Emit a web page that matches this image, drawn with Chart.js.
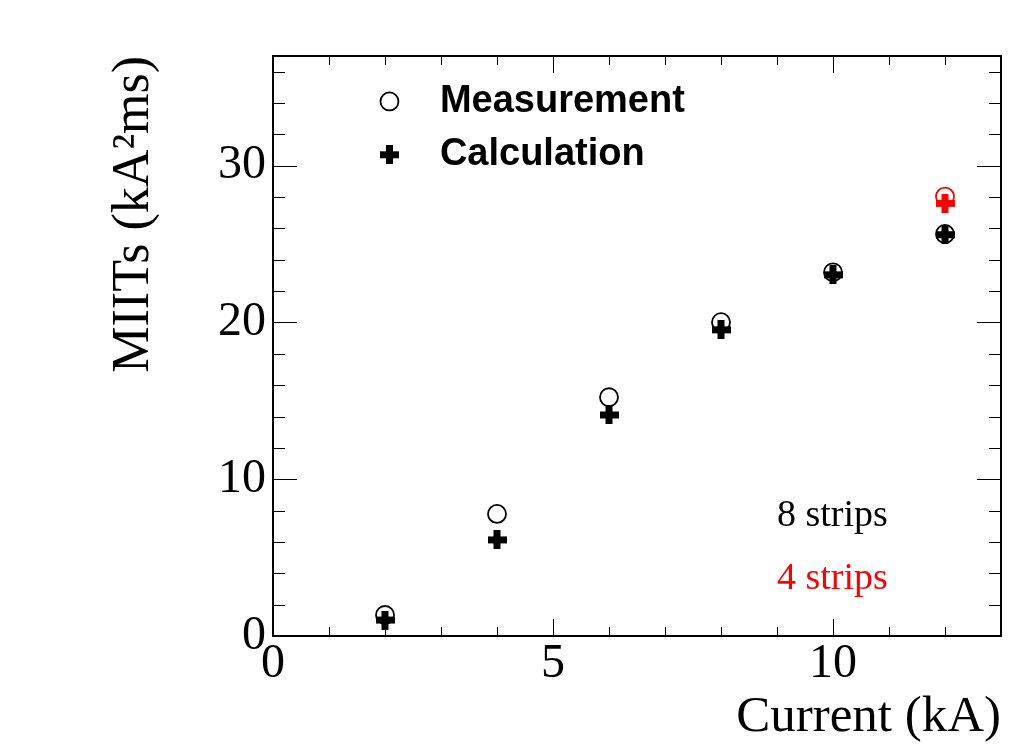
<!DOCTYPE html>
<html lang="en">
<head>
  <meta charset="UTF-8">
  <title>MIITs vs Current</title>
  <script src="https://cdn.jsdelivr.net/npm/chart.js"></script>
  <style>
    html, body { margin: 0; padding: 0; background: #fff; }
  </style>
</head>
<body>
  <canvas id="miitsChart" width="1025" height="746"></canvas>

  <script>
    // values
    const currents8 = [2, 4, 6, 8, 10, 12];
    const measured8 = [1.34, 7.79, 15.23, 20.02, 23.2, 25.65];
    const calculated8 = [1.02, 6.13, 14.1, 19.53, 23.04, 25.6];
    const currents4 = [12];
    const measured4 = [28.03];
    const calculated4 = [27.6];

    const xTicks = [0, 5, 10];
    const yTicks = [0, 10, 20, 30];

    const serif = 'Liberation Serif, Times New Roman, serif';
    const sans = 'Liberation Sans, Arial, sans-serif';

    // thick "+" marker like ROOT's style 34
    function makeCross(color) {
      const c = document.createElement('canvas');
      c.width = 19; c.height = 19;
      const g = c.getContext('2d');
      g.fillStyle = color;
      g.fillRect(0, 6, 19, 7);
      g.fillRect(6, 0, 7, 19);
      return c;
    }
    const blackCross = makeCross('#000');
    const redCross = makeCross('#ff0000');

    const toPoints = (xs, ys) => xs.map((x, i) => ({ x: x, y: ys[i] }));

    // frame, inward ticks on all sides, legend and text labels
    const rootFrame = {
      id: 'rootFrame',
      afterDraw(chart) {
        const ctx = chart.ctx;
        const a = chart.chartArea;
        const xs = chart.scales.x, ys = chart.scales.y;
        ctx.save();
        ctx.strokeStyle = '#000';

        ctx.lineWidth = 1;
        ctx.beginPath();
        for (let v = 0; v <= 13; v++) {
          const px = Math.round(xs.getPixelForValue(v)) + 0.5;
          const len = v % 5 === 0 ? 17 : 9;
          ctx.moveTo(px, a.bottom); ctx.lineTo(px, a.bottom - len);
          ctx.moveTo(px, a.top); ctx.lineTo(px, a.top + len);
        }
        for (let v = 0; v <= 36; v += 2) {
          const py = Math.round(ys.getPixelForValue(v)) + 0.5;
          const len = v % 10 === 0 ? 24 : 12;
          ctx.moveTo(a.left, py); ctx.lineTo(a.left + len, py);
          ctx.moveTo(a.right, py); ctx.lineTo(a.right - len, py);
        }
        ctx.stroke();

        ctx.lineWidth = 2;
        ctx.strokeRect(a.left, a.top, a.right - a.left, a.bottom - a.top);

        // legend
        const lx = xs.getPixelForValue(2.08);
        const tx = xs.getPixelForValue(2.98);
        const y1 = ys.getPixelForValue(34.1);
        const y2 = ys.getPixelForValue(30.7);
        ctx.lineWidth = 1.8;
        ctx.beginPath();
        ctx.arc(lx, y1, 9, 0, Math.PI * 2);
        ctx.stroke();
        ctx.drawImage(blackCross, lx - 9.5, y2 - 9.5);
        ctx.fillStyle = '#000';
        ctx.font = 'bold 38px ' + sans;
        ctx.textBaseline = 'alphabetic';
        ctx.textAlign = 'left';
        ctx.fillText('Measurement', tx, ys.getPixelForValue(33.4));
        ctx.fillText('Calculation', tx, ys.getPixelForValue(30.06));

        // strip labels
        ctx.font = '38px ' + serif;
        ctx.fillText('8 strips', xs.getPixelForValue(9), ys.getPixelForValue(7));
        ctx.fillStyle = '#ff0000';
        ctx.fillText('4 strips', xs.getPixelForValue(9), ys.getPixelForValue(3));
        ctx.restore();
      }
    };

    const ctx = document.getElementById('miitsChart').getContext('2d');
    const miitsChart = new Chart(ctx, {
      type: 'scatter',
      data: {
        datasets: [
          {
            label: 'Calculation (8 strips)',
            data: toPoints(currents8, calculated8),
            pointStyle: blackCross,
            pointRadius: 9.5
          },
          {
            label: 'Calculation (4 strips)',
            data: toPoints(currents4, calculated4),
            pointStyle: redCross,
            pointRadius: 9.5
          },
          {
            label: 'Measurement (8 strips)',
            data: toPoints(currents8, measured8),
            pointStyle: 'circle',
            pointRadius: 9,
            borderWidth: 1.8,
            borderColor: '#000',
            backgroundColor: 'rgba(0,0,0,0)'
          },
          {
            label: 'Measurement (4 strips)',
            data: toPoints(currents4, measured4),
            pointStyle: 'circle',
            pointRadius: 9,
            borderWidth: 1.8,
            borderColor: '#ff0000',
            backgroundColor: 'rgba(0,0,0,0)'
          }
        ]
      },
      options: {
        responsive: false,
        animation: false,
        events: [],
        layout: { padding: { top: 56, right: 24, left: 0, bottom: 0 } },
        plugins: {
          legend: { display: false },
          tooltip: { enabled: false }
        },
        scales: {
          x: {
            type: 'linear',
            min: 0,
            max: 13,
            grid: { display: false, drawTicks: false },
            border: { display: false },
            afterBuildTicks: (scale) => { scale.ticks = xTicks.map(v => ({ value: v })); },
            afterFit: (scale) => { scale.height = 110; },
            ticks: {
              padding: 0,
              maxRotation: 0,
              autoSkip: false,
              color: '#000',
              font: { family: serif, size: 48 }
            },
            title: {
              display: true,
              text: 'Current (kA)',
              align: 'end',
              color: '#000',
              font: { family: serif, size: 51, lineHeight: 1 },
              padding: { top: 0, bottom: 3 }
            }
          },
          y: {
            type: 'linear',
            min: 0,
            max: 37,
            grid: { display: false, drawTicks: false },
            border: { display: false },
            afterBuildTicks: (scale) => { scale.ticks = yTicks.map(v => ({ value: v })); },
            afterFit: (scale) => { scale.width = 273; },
            ticks: {
              padding: 7,
              autoSkip: false,
              color: '#000',
              font: { family: serif, size: 48 }
            },
            title: {
              display: true,
              text: 'MIITs (kA²ms)',
              align: 'end',
              color: '#000',
              font: { family: serif, size: 52, lineHeight: 1 },
              padding: { top: 108, bottom: 0 }
            }
          }
        }
      },
      plugins: [rootFrame]
    });
  </script>
</body>
</html>
